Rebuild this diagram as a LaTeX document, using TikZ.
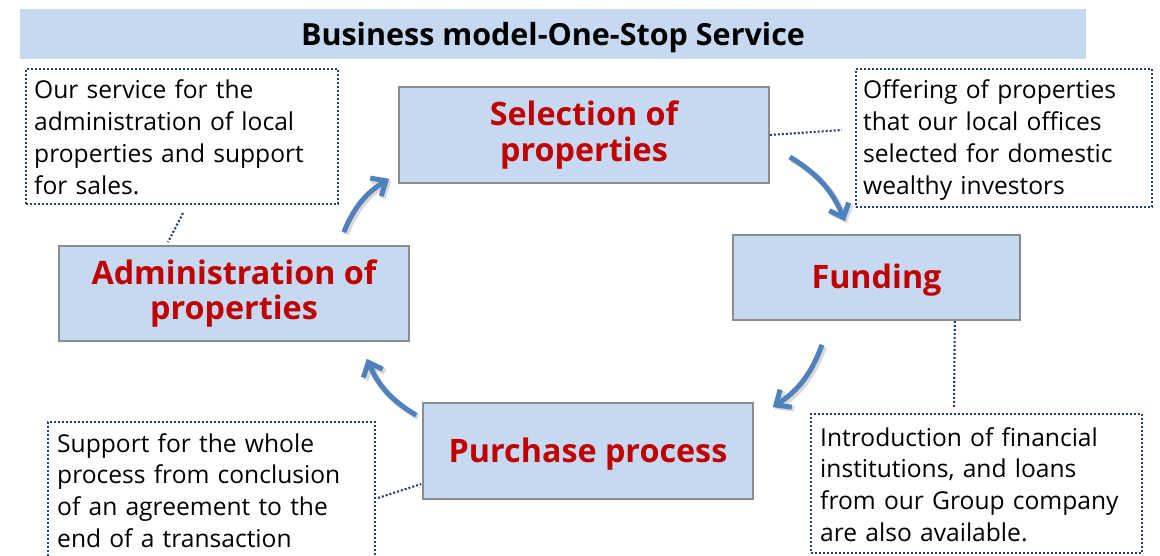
\documentclass[tikz,border=0pt]{standalone}
\usepackage{fontspec}
\setmainfont{Open Sans}
\usetikzlibrary{arrows.meta,calc}
\definecolor{boxfill}{RGB}{198,217,241}
\definecolor{boxline}{RGB}{140,140,140}
\definecolor{dotnavy}{RGB}{37,64,110}
\definecolor{redtxt}{RGB}{192,0,0}
\definecolor{arrowblue}{RGB}{79,129,189}
\begin{document}
\begin{tikzpicture}[x=1pt,y=-1pt,
  stagebox/.style={draw=boxline, line width=1.6pt, fill=boxfill, text=redtxt,
    font=\fontsize{32.3}{35.5}\selectfont\bfseries, align=center, inner sep=0pt},
  oneline/.style={text height=23pt, text depth=0pt},
  notebox/.style={draw=dotnavy, line width=2.1pt, dash pattern=on 2pt off 2pt, inner sep=0pt},
  notetext/.style={font=\fontsize{24.6}{31.7}\selectfont, align=left, text width=330pt,
    inner sep=0pt, anchor=base west},
  dotline/.style={draw=dotnavy, line width=2.1pt, dash pattern=on 2pt off 2pt},
  flow/.style={draw=arrowblue, line width=5pt, -{Straight Barb[length=12pt,width=21pt]}},
  flowshadow/.style={draw=black, opacity=0.15, line width=6pt, -{Straight Barb[length=12pt,width=21pt]}}]

\useasboundingbox (0,0) rectangle (1160,556);
\fill[white] (0,0) rectangle (1160,556);

% title bar
\node[fill=boxfill, minimum width=1066pt, minimum height=50pt, inner sep=0pt,
  font=\fontsize{30.5}{36}\selectfont\bfseries, text height=22pt, text depth=0pt]
  (title) at (553,34.5) {Business model-One-Stop Service};

% stage boxes
\node[stagebox, minimum width=370pt, minimum height=96pt] (sel) at (584,135) {Selection of\\properties};
\node[stagebox, oneline, minimum width=287pt, minimum height=85pt] (fund) at (876.5,277.5) {Funding};
\node[stagebox, minimum width=350pt, minimum height=95pt] (adm) at (234,293.5) {Administration of\\properties};
\node[stagebox, oneline, minimum width=330pt, minimum height=96pt] (pur) at (588,451) {Purchase process};

% note boxes
\node[notebox, minimum width=312pt, minimum height=135pt] (tl) at (182,136.5) {};
\node[notebox, minimum width=296pt, minimum height=138pt] (tr) at (1004,138) {};
\node[notebox, minimum width=327pt, minimum height=158pt] (bl) at (211.5,501) {};
\node[notebox, minimum width=331pt, minimum height=139pt] (br) at (976.5,483.5) {};

\node[notetext] (tlt) at (34,99) {Our service for the\\administration of local\\properties and support\\for sales.};
\node[notetext] (trt) at (863,99) {Offering of properties\\that our local offices\\selected for domestic\\wealthy investors};
\node[notetext] (blt) at (57,452) {Support for the whole\\process from conclusion\\of an agreement to the\\end of a transaction};
\node[notetext] (brt) at (820,446) {Introduction of financial\\institutions, and loans\\from our Group company\\are also available.};

% dotted connectors
\draw[dotline] ($(tl.south)+(1,8)$) -- ($(adm.north)+(-66,-3)$);
\draw[dotline] (sel.east) -- ($(tr.west)+(-13,-8)$);
\draw[dotline] ($(bl.east)+(2,-3)$) -- ($(pur.west)+(-1,33)$);
\draw[dotline] ($(fund.south east)+(-66,0)$) -- ($(br.north)+(-22.5,-6)$);

% flow arrows
\coordinate (a1s) at ($(adm.north east)+(-66,-13)$);
\coordinate (a1e) at ($(sel.south west)+(-9,-5)$);
\coordinate (a2s) at ($(sel.east)+(20,22)$);
\coordinate (a2e) at ($(fund.north)+(-31.5,-13)$);
\coordinate (a4s) at ($(fund.south)+(-54.5,24)$);
\coordinate (a4e) at ($(pur.north east)+(19,5)$);
\coordinate (a3s) at ($(pur.north west)+(-6,13)$);
\coordinate (a3e) at ($(adm.south east)+(-43,17)$);

\foreach \s/\e in {a1s/a1e, a2s/a2e, a4s/a4e, a3s/a3e}{
  \draw[flowshadow] ([shift={(2,2)}]\s) to[bend left=18] ([shift={(2,2)}]\e);
  \draw[flow] (\s) to[bend left=18] (\e);
}
\end{tikzpicture}
\end{document}
